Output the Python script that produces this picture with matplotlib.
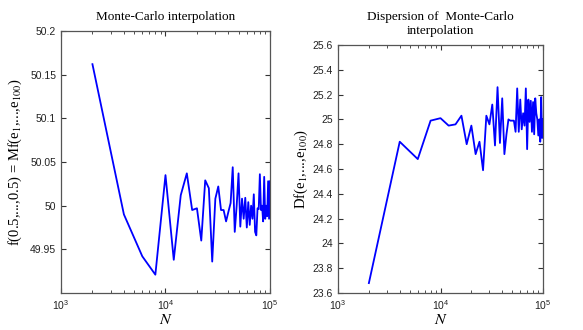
import numpy as np
import matplotlib
matplotlib.use("Agg")
import matplotlib.pyplot as plt
from matplotlib.ticker import LogLocator, NullFormatter

# sample sizes: 2000, 4000, ..., 100000
N = [2000, 4000, 6000, 8000, 10000, 12000, 14000, 16000, 18000, 20000,
     22000, 24000, 26000, 28000, 30000, 32000, 34000, 36000, 38000, 40000,
     42000, 44000, 46000, 48000, 50000, 52000, 54000, 56000, 58000, 60000,
     62000, 64000, 66000, 68000, 70000, 72000, 74000, 76000, 78000, 80000,
     82000, 84000, 86000, 88000, 90000, 92000, 94000, 96000, 98000, 100000]

# Monte-Carlo estimate of f(0.5,...,0.5)
mean_vals = [50.162, 49.990, 49.942, 49.921, 50.035, 49.938, 50.012, 50.037, 49.995, 49.997,
             49.960, 50.029, 50.020, 49.936, 50.008, 50.022, 49.995, 49.995, 49.982, 49.993,
             50.003, 50.044, 49.970, 50.000, 50.037, 49.976, 50.008, 49.985, 50.009, 49.975,
             50.004, 49.978, 50.000, 49.985, 50.013, 49.970, 49.966, 49.997, 49.996, 50.036,
             49.995, 50.000, 49.982, 50.033, 49.985, 50.000, 49.988, 50.028, 49.985, 50.028]

# dispersion of the estimate
disp_vals = [23.68, 24.82, 24.68, 24.99, 25.01, 24.95, 24.96, 25.03, 24.80, 24.95,
             24.72, 24.82, 24.59, 25.03, 24.96, 25.12, 24.79, 25.26, 24.81, 25.17,
             24.72, 24.88, 25.00, 24.99, 24.99, 24.99, 24.90, 25.25, 24.90, 25.16,
             24.92, 25.05, 24.95, 25.25, 24.76, 25.16, 24.98, 25.15, 24.90, 25.14,
             24.88, 25.17, 25.05, 25.00, 24.87, 25.00, 24.82, 25.18, 24.85, 25.00]

plt.rcParams["mathtext.fontset"] = "stix"
serif = "Liberation Serif"
sans = "Liberation Sans"


def style(ax):
    ax.set_xscale("log")
    ax.set_xlim(1e3, 1e5)
    ax.xaxis.set_major_locator(LogLocator(base=10, numticks=10))
    ax.xaxis.set_minor_locator(LogLocator(base=10, subs=np.arange(2, 10), numticks=10))
    ax.xaxis.set_minor_formatter(NullFormatter())
    ax.tick_params(which="both", direction="in", top=True, right=True,
                   color="#333333", labelsize=7.5, labelcolor="#222222")
    ax.tick_params(which="major", length=3.5)
    ax.tick_params(which="minor", length=2)
    for lab in ax.get_xticklabels() + ax.get_yticklabels():
        lab.set_fontfamily(sans)
    for s in ax.spines.values():
        s.set_color("#555555")
        s.set_linewidth(0.9)
    ax.set_xlabel("$N$", fontsize=11.5, labelpad=0.5)


fig = plt.figure(figsize=(5.83, 3.30), dpi=100)

ax1 = fig.add_axes([0.1046, 0.1121, 0.3585, 0.794])
ax1.plot(N, mean_vals, color="#0000ff", lw=1.3)
ax1.set_ylim(49.9, 50.2)
ax1.set_yticks([49.95, 50.0, 50.05, 50.1, 50.15, 50.2])
ax1.set_yticklabels(["49.95", "50", "50.05", "50.1", "50.15", "50.2"])
style(ax1)
ax1.set_ylabel("f(0.5,...,0.5) = Mf(e$_1$,...,e$_{100}$)", fontfamily=serif, fontsize=10.5, labelpad=4)
ax1.set_title("Monte-Carlo interpolation", fontfamily=serif, fontsize=9.5, pad=8)

ax2 = fig.add_axes([0.5798, 0.1121, 0.3516, 0.7515])
ax2.plot(N, disp_vals, color="#0000ff", lw=1.3)
ax2.set_ylim(23.6, 25.6)
ticks2 = [23.6, 23.8, 24.0, 24.2, 24.4, 24.6, 24.8, 25.0, 25.2, 25.4, 25.6]
ax2.set_yticks(ticks2)
ax2.set_yticklabels(["23.6", "23.8", "24", "24.2", "24.4", "24.6", "24.8", "25", "25.2", "25.4", "25.6"])
style(ax2)
ax2.set_ylabel("Df(e$_1$,...,e$_{100}$)", fontfamily=serif, fontsize=10.5, labelpad=2)
ax2.set_title("Dispersion of  Monte-Carlo\ninterpolation", fontfamily=serif, fontsize=9.5,
              pad=8, linespacing=1.25)

fig.savefig("out.png", dpi=100)
